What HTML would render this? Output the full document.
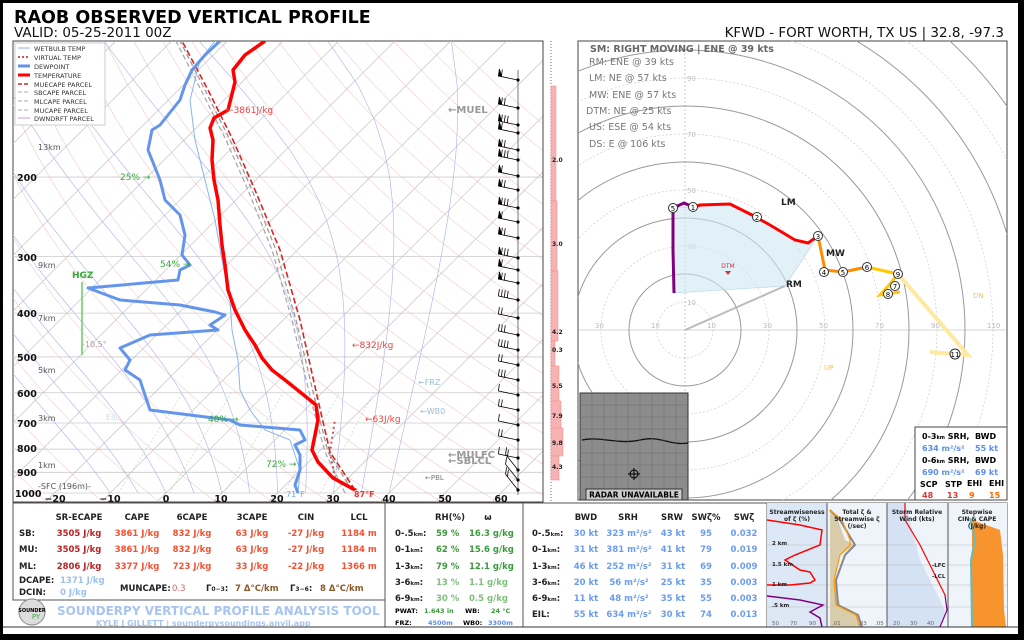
<!DOCTYPE html>
<html><head><meta charset="utf-8"><style>
html,body{margin:0;padding:0;background:#000;width:1024px;height:640px;overflow:hidden;}
svg{display:block;font-family:"DejaVu Sans","Liberation Sans",sans-serif;}
.b{font-weight:bold}
</style></head><body>
<svg id="s" width="1024" height="640" viewBox="0 0 1024 640" xmlns="http://www.w3.org/2000/svg">
<rect x="0" y="0" width="1024" height="640" fill="#000"/>
<rect x="3" y="3" width="1015" height="631" fill="#fff"/>
<text x="14" y="23" font-size="17.5" class="b">RAOB OBSERVED VERTICAL PROFILE</text>
<text x="14" y="37" font-size="13.5" fill="#111">VALID: 05-25-2011 00Z</text>
<text x="1004" y="37" font-size="13.5" text-anchor="end" fill="#111">KFWD - FORT WORTH, TX US | 32.8, -97.3</text>

<defs>
<clipPath id="cs"><rect x="13" y="41" width="530" height="461"/></clipPath>
<clipPath id="ch"><rect x="578" y="41" width="429" height="459"/></clipPath>
</defs>

<!-- skew-T -->
<rect x="13" y="41" width="530" height="461" fill="#fff" stroke="#444"/>
<g id="grid" clip-path="url(#cs)"></g>
<g clip-path="url(#cs)">
 <polyline fill="none" stroke="#8ab4f0" stroke-width="1" points="298,493 300,470 290,440 265,430 250,410 240,390 238,360 232,330 230,300 222,260 215,220 205,180 195,140 190,100 200,60 215,41"/>
 <polyline fill="none" stroke="#999" stroke-width="1.3" stroke-dasharray="5,3" points="352,490 328,452 315,400 296,320 276,250 252,190 230,140 205,90 180,41"/>
 <polyline fill="none" stroke="#aaa" stroke-width="1.3" stroke-dasharray="5,3" points="345,493 325,452 311,400 292,320 272,250 248,190 226,140 201,90 176,41"/>
 <polyline fill="none" stroke="#d22" stroke-width="1.6" stroke-dasharray="6,3" points="355,490 330,452 318,400 300,320 280,250 255,190 233,140 208,90 182,41"/>
 <polyline fill="none" stroke="#c55" stroke-width="2" stroke-dasharray="2,3" points="357,490 335,478 330,452 335,420"/>
 <polyline fill="none" stroke="#6495ed" stroke-width="3" stroke-linejoin="round" points="298,493 295,485 300,470 300,455 295,445 305,440 300,430 240,425 230,420 150,410 145,395 140,380 125,370 130,360 120,348 150,335 218,330 210,325 225,315 215,312 180,305 120,300 88,288 178,280 180,270 190,265 182,255 185,235 180,215 165,200 160,180 148,150 152,130 160,125 172,110 180,100 185,85 192,70 205,55 220,41"/>
 <polyline fill="none" stroke="#f00" stroke-width="3.5" stroke-linejoin="round" points="355,490 333,478 318,462 312,450 318,420 316,405 300,392 285,380 272,370 262,358 255,345 245,330 235,310 228,290 225,265 222,245 220,225 218,200 214,180 212,160 213,140 210,128 214,118 228,110 235,82 233,70 245,55 265,41"/>
</g>
<g font-size="9" fill="#ee4444"><text x="226" y="113">←3861J/kg</text><text x="352" y="348">←832J/kg</text><text x="365" y="422">←63J/kg</text></g>
<g font-size="10" fill="#999" class="b"><text x="448" y="113">←MUEL</text><text x="448" y="458">←MULFC</text><text x="448" y="464">←SBLCL</text></g>
<g font-size="8" fill="#9bd"><text x="418" y="385">←FRZ</text><text x="420" y="414">←WB0</text><text x="106" y="420" fill="#cde">EIL</text></g>
<text x="425" y="480" font-size="7" fill="#777">←PBL</text>
<g font-size="9" fill="#3a3"><text x="120" y="180">25% →</text><text x="160" y="267">54% →</text><text x="208" y="422">40% →</text><text x="266" y="467">72% →</text></g>
<text x="72" y="278" font-size="9" fill="#3a3" class="b">HGZ</text>
<line x1="82" y1="282" x2="82" y2="355" stroke="#6c6" stroke-width="1.5"/>
<text x="82" y="347" font-size="8" fill="#c99">-10.5°</text>
<text x="354" y="497" font-size="8" fill="#e33" class="b">87°F</text>
<text x="286" y="497" font-size="8" fill="#6ae">71°F</text>
<g font-size="8" fill="#555"><text x="38" y="150">13km</text><text x="38" y="268">9km</text><text x="38" y="321">7km</text><text x="38" y="373">5km</text><text x="38" y="421">3km</text><text x="38" y="468">1km</text><text x="38" y="489">-SFC (196m)-</text></g>
<g font-size="9.5" class="b" fill="#111"><text x="17" y="181">200</text><text x="17" y="261">300</text><text x="17" y="317">400</text><text x="17" y="361">500</text><text x="17" y="397">600</text><text x="17" y="427">700</text><text x="17" y="452">800</text><text x="17" y="476">900</text><text x="15" y="497">1000</text></g>
<g font-size="9.5" class="b" fill="#111" text-anchor="middle"><text x="55" y="502">−20</text><text x="110" y="502">−10</text><text x="166" y="502">0</text><text x="221" y="502">10</text><text x="277" y="502">20</text><text x="333" y="502">30</text><text x="389" y="502">40</text><text x="445" y="502">50</text><text x="501" y="502">60</text></g>
<!-- legend -->
<g font-size="6.5" fill="#333">
<rect x="15" y="43" width="90" height="82" fill="#fff" stroke="#ccc"/>
<line x1="18" y1="48" x2="30" y2="48" stroke="#8ab4f0"/><text x="34" y="51">WETBULB TEMP</text>
<line x1="18" y1="57" x2="30" y2="57" stroke="#c55" stroke-width="2" stroke-dasharray="2,2"/><text x="34" y="60">VIRTUAL TEMP</text>
<line x1="18" y1="66" x2="30" y2="66" stroke="#6495ed" stroke-width="3"/><text x="34" y="69">DEWPOINT</text>
<line x1="18" y1="75" x2="30" y2="75" stroke="#f00" stroke-width="3"/><text x="34" y="78">TEMPERATURE</text>
<line x1="18" y1="84" x2="30" y2="84" stroke="#d22" stroke-width="1.5" stroke-dasharray="4,2"/><text x="34" y="87">MUECAPE PARCEL</text>
<line x1="18" y1="92" x2="30" y2="92" stroke="#aaa" stroke-dasharray="4,2"/><text x="34" y="95">SBCAPE PARCEL</text>
<line x1="18" y1="101" x2="30" y2="101" stroke="#aaa" stroke-dasharray="4,2"/><text x="34" y="104">MLCAPE PARCEL</text>
<line x1="18" y1="110" x2="30" y2="110" stroke="#aaa" stroke-dasharray="4,2"/><text x="34" y="113">MUCAPE PARCEL</text>
<line x1="18" y1="118" x2="30" y2="118" stroke="#c9d"/><text x="34" y="121">DWNDRFT PARCEL</text>
</g>
<line x1="518" y1="70" x2="518" y2="495" stroke="#555" stroke-width="0.8"/>
<g id="barbs" stroke="#000" fill="#000" stroke-width="0.8"></g>
<!-- pink panel -->
<line x1="551" y1="41" x2="551" y2="502" stroke="#666" stroke-dasharray="1,2"/>
<line x1="543" y1="41" x2="543" y2="502" stroke="#444"/>
<g fill="#f7b3b3" stroke="#e88" stroke-width="0.5">
<rect x="551" y="86" width="5" height="115"/><rect x="551" y="201" width="6" height="70"/><rect x="551" y="271" width="7" height="70"/><rect x="551" y="341" width="4" height="25"/><rect x="551" y="366" width="8" height="35"/><rect x="551" y="401" width="10" height="27"/><rect x="551" y="428" width="12" height="28"/><rect x="551" y="456" width="8" height="24"/>
</g>
<g font-size="6" class="b" fill="#222"><text x="552" y="162">2.0</text><text x="552" y="246">3.0</text><text x="552" y="334">4.2</text><text x="552" y="352">0.3</text><text x="552" y="388">5.5</text><text x="552" y="418">7.9</text><text x="552" y="445">9.8</text><text x="552" y="469">4.3</text></g>

<!-- hodograph -->
<rect x="578" y="41" width="429" height="459" fill="#fff" stroke="#444"/>
<g id="hodo" clip-path="url(#ch)"></g>
<g clip-path="url(#ch)">
<polygon points="674,293 673,208 693,207 730,204 752,215 795,240 808,243 818,236 785,286" fill="#cfe6f2" fill-opacity="0.6" stroke="#bde" stroke-width="0.8"/>
<line x1="685" y1="330" x2="785" y2="286" stroke="#bbb" stroke-width="2"/>
<polyline fill="none" stroke="#800080" stroke-width="3" points="674,293 673,250 673,208 684,203 693,207"/>
<polyline fill="none" stroke="#f00" stroke-width="3" points="693,207 700,205 730,204 752,215 770,225 795,240 808,243 818,236"/>
<polyline fill="none" stroke="#ff8c00" stroke-width="3" points="818,236 825,270 843,272 867,267"/>
<polyline fill="none" stroke="#ffc800" stroke-width="3" points="867,267 898,274 890,284 880,295 900,292"/>
<polyline fill="none" stroke="#ffe9a0" stroke-width="4" points="898,274 968,355 930,352"/>
</g>
<g font-size="7" text-anchor="middle" fill="#000">
<circle cx="673" cy="208" r="4.5" fill="#fff" stroke="#333"/><text x="673" y="211">5</text>
<circle cx="693" cy="207" r="4.5" fill="#fff" stroke="#333"/><text x="693" y="210">1</text>
<circle cx="757" cy="217" r="4.5" fill="#fff" stroke="#333"/><text x="757" y="220">2</text>
<circle cx="818" cy="236" r="4.5" fill="#fff" stroke="#333"/><text x="818" y="239">3</text>
<circle cx="824" cy="272" r="4.5" fill="#fff" stroke="#333"/><text x="824" y="275">4</text>
<circle cx="843" cy="272" r="4.5" fill="#fff" stroke="#333"/><text x="843" y="275">5</text>
<circle cx="867" cy="267" r="4.5" fill="#fff" stroke="#333"/><text x="867" y="270">6</text>
<circle cx="898" cy="274" r="4.5" fill="#fff" stroke="#333"/><text x="898" y="277">9</text>
<circle cx="895" cy="286" r="4.5" fill="#fff" stroke="#333"/><text x="895" y="289">7</text>
<circle cx="888" cy="294" r="4.5" fill="#fff" stroke="#333"/><text x="888" y="297">8</text>
<circle cx="955" cy="354" r="5" fill="#fff" stroke="#333"/><text x="955" y="357">11</text>
</g>
<g font-size="9" class="b" fill="#222"><text x="781" y="205">LM</text><text x="826" y="256">MW</text><text x="786" y="287">RM</text></g>
<text x="728" y="268" font-size="6" fill="#c33" text-anchor="middle">DTM</text>
<polygon points="725,271 731,271 728,275" fill="#c33"/>
<text x="973" y="298" font-size="7" fill="#fb5">DN</text><text x="824" y="370" font-size="7" fill="#fb5">UP</text>
<text x="590" y="52" font-size="9.5" class="b" fill="#666">SM: RIGHT MOVING | ENE @ 39 kts</text>
<g font-size="9.5" fill="#777"><text x="589" y="65">RM: ENE @ 39 kts</text><text x="589" y="81">LM: NE @ 57 kts</text><text x="589" y="98">MW: ENE @ 57 kts</text><text x="586" y="114">DTM: NE @ 25 kts</text><text x="589" y="130">US: ESE @ 54 kts</text><text x="589" y="147">DS: E @ 106 kts</text></g>
<!-- radar -->
<rect x="580" y="393" width="108" height="107" fill="#8c8c8c" stroke="#333"/>
<path d="M582,440 C600,436 620,445 640,440 S670,446 688,443" fill="none" stroke="#111" stroke-width="1.3"/>
<g stroke="#6a6a6a" stroke-width="0.5"><path d="M580,405H688M580,417H688M580,429H688M580,453H688M580,465H688M580,477H688M592,393V500M604,393V500M616,393V500M628,393V500M640,393V500M652,393V500M664,393V500M676,393V500"/></g>
<circle cx="634" cy="474" r="4" fill="none" stroke="#000"/><path d="M628,474H640M634,468V480" stroke="#000"/>
<rect x="586" y="489" width="96" height="11" fill="#ccc" stroke="#333"/>
<text x="634" y="497.5" font-size="7.5" class="b" text-anchor="middle">RADAR UNAVAILABLE</text>
<!-- srh box -->
<rect x="915" y="427" width="92" height="73" fill="#fff" stroke="#444"/>
<g font-size="8" class="b"><text x="922" y="439">0-3<tspan font-size="5">km</tspan> SRH,</text><text x="975" y="439">BWD</text>
<text x="922" y="451" fill="#5b8def">634 m²/s²</text><text x="975" y="451" fill="#5b8def">55 kt</text>
<text x="922" y="463">0-6<tspan font-size="5">km</tspan> SRH,</text><text x="975" y="463">BWD</text>
<text x="922" y="475" fill="#5b8def">690 m²/s²</text><text x="975" y="475" fill="#5b8def">69 kt</text>
<text x="920" y="487">SCP</text><text x="945" y="487">STP</text><text x="967" y="486">EHI</text><text x="989" y="486">EHI</text>
<text x="922" y="498" fill="#d33">48</text><text x="947" y="498" fill="#d33">13</text><text x="969" y="498" fill="#f60">9</text><text x="989" y="498" fill="#f60">15</text></g>

<!-- bottom box 1 -->
<rect x="13" y="503" width="372" height="97" fill="#fff" stroke="#555"/>
<g font-size="8.5" class="b" text-anchor="middle" fill="#222"><text x="79" y="520">SR-ECAPE</text><text x="137" y="520">CAPE</text><text x="192" y="520">6CAPE</text><text x="252" y="520">3CAPE</text><text x="306" y="520">CIN</text><text x="359" y="520">LCL</text></g>
<g font-size="8.5" class="b" fill="#222"><text x="19" y="536">SB:</text><text x="19" y="552">MU:</text><text x="19" y="569">ML:</text><text x="19" y="583">DCAPE:</text><text x="19" y="595">DCIN:</text></g>
<g font-size="8.5" class="b" text-anchor="middle">
<g fill="#b22"><text x="79" y="536">3505 J/kg</text><text x="79" y="552">3505 J/kg</text><text x="79" y="569">2806 J/kg</text></g>
<g fill="#f55030"><text x="137" y="536">3861 J/kg</text><text x="137" y="552">3861 J/kg</text><text x="137" y="569">3377 J/kg</text>
<text x="192" y="536">832 J/kg</text><text x="192" y="552">832 J/kg</text><text x="192" y="569">723 J/kg</text>
<text x="252" y="536">63 J/kg</text><text x="252" y="552">63 J/kg</text><text x="252" y="569">33 J/kg</text>
<text x="306" y="536">-27 J/kg</text><text x="306" y="552">-27 J/kg</text><text x="306" y="569">-22 J/kg</text>
<text x="359" y="536">1184 m</text><text x="359" y="552">1184 m</text><text x="359" y="569">1366 m</text></g></g>
<g font-size="8.5" class="b"><text x="60" y="583" fill="#9bc0f0">1371 J/kg</text><text x="60" y="595" fill="#9bc0f0">0 J/kg</text>
<text x="120" y="591" fill="#222">MUNCAPE:</text><text x="172" y="591" fill="#c66" font-weight="normal">0.3</text>
<text x="206" y="591" fill="#222">Γ<tspan font-size="6">0−3</tspan>:</text><text x="235" y="591" fill="#8b5a2b">7 Δ°C/km</text>
<text x="290" y="591" fill="#222">Γ<tspan font-size="6">3−6</tspan>:</text><text x="320" y="591" fill="#8b5a2b">8 Δ°C/km</text></g>
<circle cx="32" cy="612" r="13" fill="#ddd" stroke="#888"/><text x="32" y="612" font-size="5" text-anchor="middle" class="b">SOUNDER</text><text x="36" y="619" font-size="7" fill="#4a4" text-anchor="middle">PY</text>
<text x="57" y="615" font-size="12" class="b" fill="#a8c4f0">SOUNDERPY VERTICAL PROFILE ANALYSIS TOOL</text>
<text x="96" y="626" font-size="8" class="b" fill="#a8c4f0">KYLE J GILLETT | sounderpysoundings.anvil.app</text>
<!-- box 2 -->
<rect x="385" y="503" width="138" height="124" fill="#fff" stroke="#555"/>
<g font-size="8.5" class="b" fill="#222"><text x="450" y="520" text-anchor="middle">RH(%)</text><text x="488" y="520" text-anchor="middle">ω</text>
<text x="395" y="536">0-.5<tspan font-size="5.5">km</tspan>:</text><text x="395" y="552">0-1<tspan font-size="5.5">km</tspan>:</text><text x="395" y="569">1-3<tspan font-size="5.5">km</tspan>:</text><text x="395" y="585">3-6<tspan font-size="5.5">km</tspan>:</text><text x="395" y="601">6-9<tspan font-size="5.5">km</tspan>:</text></g>
<g font-size="8.5" class="b"><g fill="#3a9a3a"><text x="436" y="536">59 %</text><text x="469" y="536">16.3 g/kg</text><text x="436" y="552">62 %</text><text x="469" y="552">15.6 g/kg</text><text x="436" y="569">79 %</text><text x="469" y="569">12.1 g/kg</text></g>
<g fill="#7cc07c"><text x="436" y="585">13 %</text><text x="469" y="585">1.1 g/kg</text><text x="436" y="601">30 %</text><text x="469" y="601">0.5 g/kg</text></g></g>
<g font-size="6.5" class="b"><text x="395" y="613">PWAT:</text><text x="424" y="613" fill="#3a9a3a">1.643 in</text><text x="465" y="613">WB:</text><text x="491" y="613" fill="#3a9a3a">24 °C</text>
<text x="395" y="625">FRZ:</text><text x="428" y="625" fill="#5b8def">4500m</text><text x="463" y="625">WB0:</text><text x="488" y="625" fill="#5b8def">3300m</text></g>
<!-- box 3 -->
<rect x="523" y="503" width="244" height="124" fill="#fff" stroke="#555"/>
<g font-size="8.5" class="b" fill="#222" text-anchor="middle"><text x="586" y="520">BWD</text><text x="628" y="520">SRH</text><text x="672" y="520">SRW</text><text x="706" y="520">SWζ%</text><text x="744" y="520">SWζ</text></g>
<g font-size="8.5" class="b" fill="#222"><text x="532" y="536">0-.5<tspan font-size="5.5">km</tspan>:</text><text x="532" y="552">0-1<tspan font-size="5.5">km</tspan>:</text><text x="532" y="569">1-3<tspan font-size="5.5">km</tspan>:</text><text x="532" y="585">3-6<tspan font-size="5.5">km</tspan>:</text><text x="532" y="601">6-9<tspan font-size="5.5">km</tspan>:</text><text x="532" y="617">EIL:</text></g>
<g font-size="8.5" class="b" fill="#6b9cf0" text-anchor="middle">
<text x="586" y="536">30 kt</text><text x="629" y="536">323 m²/s²</text><text x="673" y="536">43 kt</text><text x="706" y="536">95</text><text x="744" y="536">0.032</text>
<text x="586" y="552">31 kt</text><text x="629" y="552">381 m²/s²</text><text x="673" y="552">41 kt</text><text x="706" y="552">79</text><text x="744" y="552">0.019</text>
<text x="586" y="569">46 kt</text><text x="629" y="569">252 m²/s²</text><text x="673" y="569">31 kt</text><text x="706" y="569">69</text><text x="744" y="569">0.009</text>
<text x="586" y="585">20 kt</text><text x="629" y="585">56 m²/s²</text><text x="673" y="585">25 kt</text><text x="706" y="585">35</text><text x="744" y="585">0.003</text>
<text x="586" y="601">11 kt</text><text x="629" y="601">48 m²/s²</text><text x="673" y="601">35 kt</text><text x="706" y="601">55</text><text x="744" y="601">0.003</text>
<text x="586" y="617">55 kt</text><text x="629" y="617">634 m²/s²</text><text x="673" y="617">30 kt</text><text x="706" y="617">74</text><text x="744" y="617">0.013</text></g>
<!-- small panels -->
<rect x="767" y="503" width="240" height="124" fill="#fff" stroke="#555"/>
<rect x="767" y="503" width="60" height="124" fill="#dde8f6"/>
<rect x="827" y="503" width="60" height="124" fill="#eef4fa"/>
<rect x="887" y="503" width="61" height="124" fill="#eef4fa"/>
<polygon points="887,503 905,503 920,560 945,610 940,627 887,627" fill="#d4e2f4"/>
<rect x="948" y="503" width="59" height="124" fill="#eef4fa"/>
<g stroke="#bbb" stroke-width="0.5"><path d="M767,545H1007M767,565H1007M767,585H1007M767,607H1007"/></g>
<g stroke="#555"><line x1="827" y1="503" x2="827" y2="627"/><line x1="887" y1="503" x2="887" y2="627"/><line x1="948" y1="503" x2="948" y2="627"/></g>
<polyline fill="none" stroke="#f00" stroke-width="1.5" points="767,520 800,525 822,530 820,545 795,555 785,560 800,570 810,572 815,580 810,583 790,585 767,585"/>
<polyline fill="none" stroke="#800080" stroke-width="1.5" points="767,596 800,600 823,605 810,612 820,618 822,627"/>
<polygon points="830,510 838,520 845,540 855,545 840,555 835,580 840,605 858,615 862,627 830,627" fill="#d8ccaa"/>
<polyline fill="none" stroke="#888" stroke-width="2" points="830,510 840,520 852,540 855,545 845,555 836,580 838,605 858,615 862,627"/>
<polyline fill="none" stroke="#f90" stroke-width="1.2" points="830,510 842,520 850,540 850,545 840,555 834,580 836,605 856,615 860,627"/>
<polyline fill="none" stroke="#f00" stroke-width="1.2" points="905,503 905,520 920,545 935,575 945,595"/>
<polyline fill="none" stroke="#800080" stroke-width="1.2" points="945,595 947,610 940,627"/>
<polygon points="972,520 1000,530 1003,555 1004,610 1006,627 972,627" fill="#f7942d"/>
<polyline fill="none" stroke="#6bb" stroke-width="2" points="970,518 975,540 971,560 972,627"/>
<g font-size="6" class="b" fill="#222" text-anchor="middle"><text x="797" y="514">Streamwiseness</text><text x="797" y="521">of ζ (%)</text><text x="857" y="514">Total ζ &amp;</text><text x="857" y="521">Streamwise ζ</text><text x="857" y="528">(/sec)</text><text x="917" y="514">Storm Relative</text><text x="917" y="521">Wind (kts)</text><text x="977" y="514">Stepwise</text><text x="977" y="521">CIN &amp; CAPE</text><text x="977" y="528">(J/kg)</text></g>
<g font-size="5.5" class="b" fill="#222"><text x="772" y="545">2 km</text><text x="772" y="566">1.5 km</text><text x="772" y="586">1 km</text><text x="772" y="607">.5 km</text><text x="932" y="567">-LFC</text><text x="932" y="578">-LCL</text></g>
<g font-size="5.5" fill="#666"><text x="772" y="625">50</text><text x="790" y="625">70</text><text x="809" y="625">90</text><text x="832" y="625">.01</text><text x="858" y="625">.03</text><text x="875" y="625">.05</text><text x="893" y="625">20</text><text x="910" y="625">30</text><text x="927" y="625">40</text></g>
<line x1="3" y1="627" x2="1018" y2="627" stroke="#333"/>
</svg>
<script>
(function(){
var NS="http://www.w3.org/2000/svg";
function el(p,t,a){var e=document.createElementNS(NS,t);for(var k in a)e.setAttribute(k,a[k]);p.appendChild(e);return e;}
var g=document.getElementById("grid");
function Y(p){return 493-196.3*Math.log(1000/p);}
function X(T,y){return 166+5.58*T+(493-y);}
[1000,900,800,700,600,500,400,300,200].forEach(function(p){var y=Y(p);el(g,"line",{x1:13,x2:543,y1:y,y2:y,stroke:"#ccc","stroke-width":0.8});});
for(var T=-160;T<=60;T+=10){el(g,"line",{x1:X(T,502),y1:502,x2:X(T,41),y2:41,stroke:"#bbb","stroke-width":0.6});}
for(var th=250;th<=470;th+=10){var pts=[];for(var p=1050;p>=100;p-=25){var Tk=th*Math.pow(p/1000,0.286);var y=Y(p);pts.push(X(Tk-273.15,y).toFixed(1)+","+y.toFixed(1));}el(g,"polyline",{points:pts.join(" "),fill:"none",stroke:"#f3b0b0","stroke-width":0.5});}
for(var t0=-10;t0<=40;t0+=5){var pts=[];var Tk=t0+273.15;pts.push(X(t0,Y(1000)).toFixed(1)+","+Y(1000).toFixed(1));for(var p=975;p>=100;p-=25){var Tc=Tk-273.15;var es=6.112*Math.exp(17.67*Tc/(Tc+243.5));var r=0.622*es/(p-es);var L=2.5e6;var gm=(287*Tk+L*r)/(1004+L*L*r*0.622/(287*Tk*Tk))/p;Tk-=gm*25;var y=Y(p);pts.push(X(Tk-273.15,y).toFixed(1)+","+y.toFixed(1));}el(g,"polyline",{points:pts.join(" "),fill:"none",stroke:"#aab0ee","stroke-width":0.6});}
[2,4,8,16,24].forEach(function(w){var pts=[];for(var p=1000;p>=600;p-=50){var e=w/1000*p/(0.622+w/1000);var Td=243.5*Math.log(e/6.112)/(17.67-Math.log(e/6.112));var y=Y(p);pts.push(X(Td,y).toFixed(1)+","+y.toFixed(1));}el(g,"polyline",{points:pts.join(" "),fill:"none",stroke:"#9c9","stroke-width":0.5,"stroke-dasharray":"2,2"});});
var b=document.getElementById("barbs");
var ys=[80,108,125,133,150,160,176,190,208,222,238,258,270,283,300,318,335,350,365,380,395,410,425,440,458,470,480,490];
ys.forEach(function(y,i){var len=20;var ang=(i>24)?0.9:0.2;var x1=518,y1=y;var x2=x1-len*Math.cos(ang),y2=y1-len*Math.sin(ang);
el(b,"line",{x1:x1,y1:y1,x2:x2,y2:y2});el(b,"circle",{cx:x1,cy:y1,r:1.2});
var n=(i<20)?2+(i%3):1+(i%2);for(var k=0;k<n;k++){var fx=x2+k*3*Math.cos(ang),fy=y2+k*3*Math.sin(ang);
if(i<14&&k<1){el(b,"polygon",{points:fx+","+fy+" "+(fx+3)+","+(fy)+" "+(fx+1)+","+(fy-7)});}else{el(b,"line",{x1:fx,y1:fy,x2:fx+1,y2:fy-7});}}});
var h=document.getElementById("hodo");var cx=685,cy=330,s=2.8;
el(h,"line",{x1:578,x2:1007,y1:cy,y2:cy,stroke:"#aaa","stroke-width":0.6});el(h,"line",{x1:cx,x2:cx,y1:41,y2:500,stroke:"#aaa","stroke-width":0.6,"stroke-dasharray":"2,2"});
for(var r=10;r<=140;r+=10){el(h,"circle",{cx:cx,cy:cy,r:r*s,fill:"none",stroke:(r%20==0)?"#999":"#ccc","stroke-width":(r%20==0)?1:0.7,"stroke-dasharray":(r%20==0)?"":"2,2"});}
[10,30,50,70,90,110].forEach(function(r){var t=el(h,"text",{x:cx+r*s-6,y:cy-2,"font-size":7,fill:"#bbb"});t.textContent=r;});
[30,10].forEach(function(r){var t=el(h,"text",{x:cx-r*s-6,y:cy-2,"font-size":7,fill:"#bbb"});t.textContent=r;});
[10,30,50,70,90].forEach(function(r){var t=el(h,"text",{x:cx+2,y:cy-r*s+3,"font-size":7,fill:"#bbb"});t.textContent=r;});
})();
</script>
</body></html>
